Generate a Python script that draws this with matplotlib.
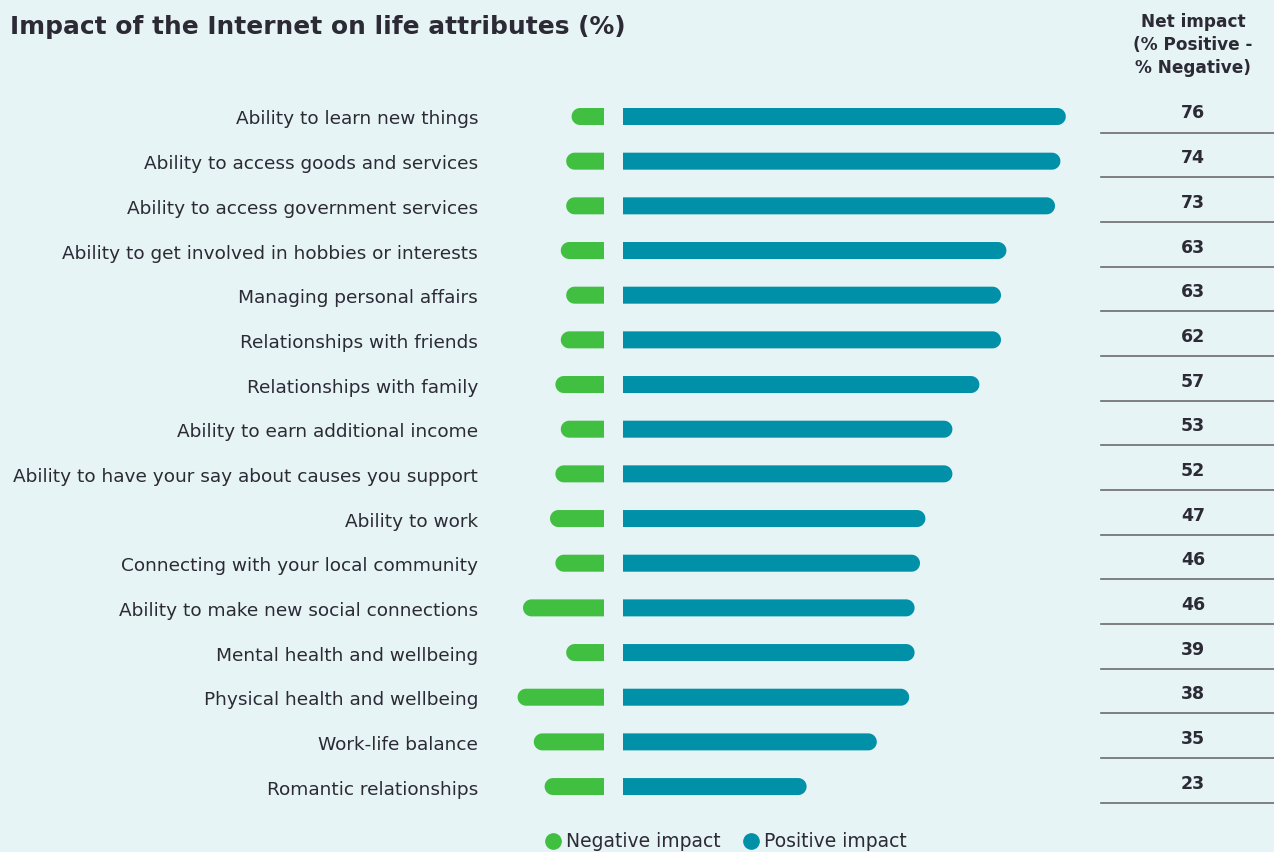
import matplotlib
matplotlib.use("Agg")
import matplotlib.pyplot as plt
import numpy as np
from matplotlib import transforms
from matplotlib.patches import Polygon

# ---- data ----
attributes = [
    "Ability to learn new things",
    "Ability to access goods and services",
    "Ability to access government services",
    "Ability to get involved in hobbies or interests",
    "Managing personal affairs",
    "Relationships with friends",
    "Relationships with family",
    "Ability to earn additional income",
    "Ability to have your say about causes you support",
    "Ability to work",
    "Connecting with your local community",
    "Ability to make new social connections",
    "Mental health and wellbeing",
    "Physical health and wellbeing",
    "Work-life balance",
    "Romantic relationships",
]
negative = [6, 7, 7, 8, 7, 8, 9, 8, 9, 10, 9, 15, 7, 16, 13, 11]
positive = [82, 81, 80, 71, 70, 70, 66, 61, 61, 56, 55, 54, 54, 53, 47, 34]
net_impact = [76, 74, 73, 63, 63, 62, 57, 53, 52, 47, 46, 46, 39, 38, 35, 23]

GREEN = "#40bf40"
TEAL = "#0091a8"
BG = "#e6f4f5"
TXT = "#2b2a35"

W, H, DPI = 1274, 853, 100
plt.rcParams["font.family"] = ["DejaVu Sans"]

fig = plt.figure(figsize=(W / DPI, H / DPI), dpi=DPI, facecolor=BG)

# axes placed in pixel terms
px_per_unit = 5.4
ax_left, ax_right = 490, 1090
zero_px = 604
top_px, bot_px = 95, 809
row0_px, row_step = 117.5, 44.67
ax = fig.add_axes([ax_left / W, 1 - bot_px / H, (ax_right - ax_left) / W, (bot_px - top_px) / H])
ax.set_facecolor(BG)
ax.set_xlim(-(zero_px - ax_left) / px_per_unit, (ax_right - zero_px) / px_per_unit)
ax.set_ylim(15 + (bot_px - row0_px - 15 * row_step) / row_step, -(row0_px - top_px) / row_step)
for s in ax.spines.values():
    s.set_visible(False)
ax.set_xticks([])

gap = 19 / px_per_unit          # space between negative and positive bars
rx = 8.5 / px_per_unit          # cap radius, x data units
ry = 8.5 / row_step             # cap radius, y data units
ys = list(range(len(attributes)))


def rounded_bar(start, end, y, color):
    """flat at start, round cap at end"""
    d = 1 if end > start else -1
    cx = end - d * rx
    t = np.linspace(-np.pi / 2, np.pi / 2, 30)
    arc = np.column_stack([cx + d * rx * np.cos(t), y + ry * np.sin(t) * d])
    pts = np.vstack([[start, y - ry * d], arc, [start, y + ry * d]])
    ax.add_patch(Polygon(pts, closed=True, facecolor=color, edgecolor="none"))


for y, n, p in zip(ys, negative, positive):
    rounded_bar(0, -n, y, GREEN)
    rounded_bar(gap, gap + p, y, TEAL)

ax.set_yticks(ys)
ax.set_yticklabels(attributes, fontsize=13.3, color=TXT)
ax.tick_params(axis="y", length=0, pad=(ax_left - 478) * 72 / DPI)

# net impact column
bt = transforms.blended_transform_factory(fig.transFigure, ax.transData)
net_x = 1193 / W
for y, v in zip(ys, net_impact):
    ax.text(net_x, y - 4 / row_step, str(v), transform=bt, ha="center", va="center",
            fontsize=12.5, fontweight="bold", color=TXT)
    ax.plot([1101 / W, 1.0], [y + 16 / row_step] * 2, transform=bt, color="#6b6b6b",
            lw=1.2, clip_on=False)

fig.text(net_x, 1 - 45 / H, "Net impact\n(% Positive -\n% Negative)", ha="center", va="center",
         fontsize=12.2, fontweight="bold", color=TXT, linespacing=1.35)

fig.text(10 / W, 1 - 27 / H, "Impact of the Internet on life attributes (%)", ha="left",
         va="center", fontsize=17.9, fontweight="bold", color=TXT)

# legend
ly = 1 - 842 / H
fig.lines.append(plt.Line2D([553 / W], [ly], transform=fig.transFigure, marker="o",
                            markersize=11, color=GREEN, linestyle="none"))
fig.text(566 / W, ly, "Negative impact", ha="left", va="center", fontsize=13.5, color=TXT)
fig.lines.append(plt.Line2D([751 / W], [ly], transform=fig.transFigure, marker="o",
                            markersize=11, color=TEAL, linestyle="none"))
fig.text(764 / W, ly, "Positive impact", ha="left", va="center", fontsize=13.5, color=TXT)

fig.savefig("out.png", dpi=DPI, facecolor=BG)
